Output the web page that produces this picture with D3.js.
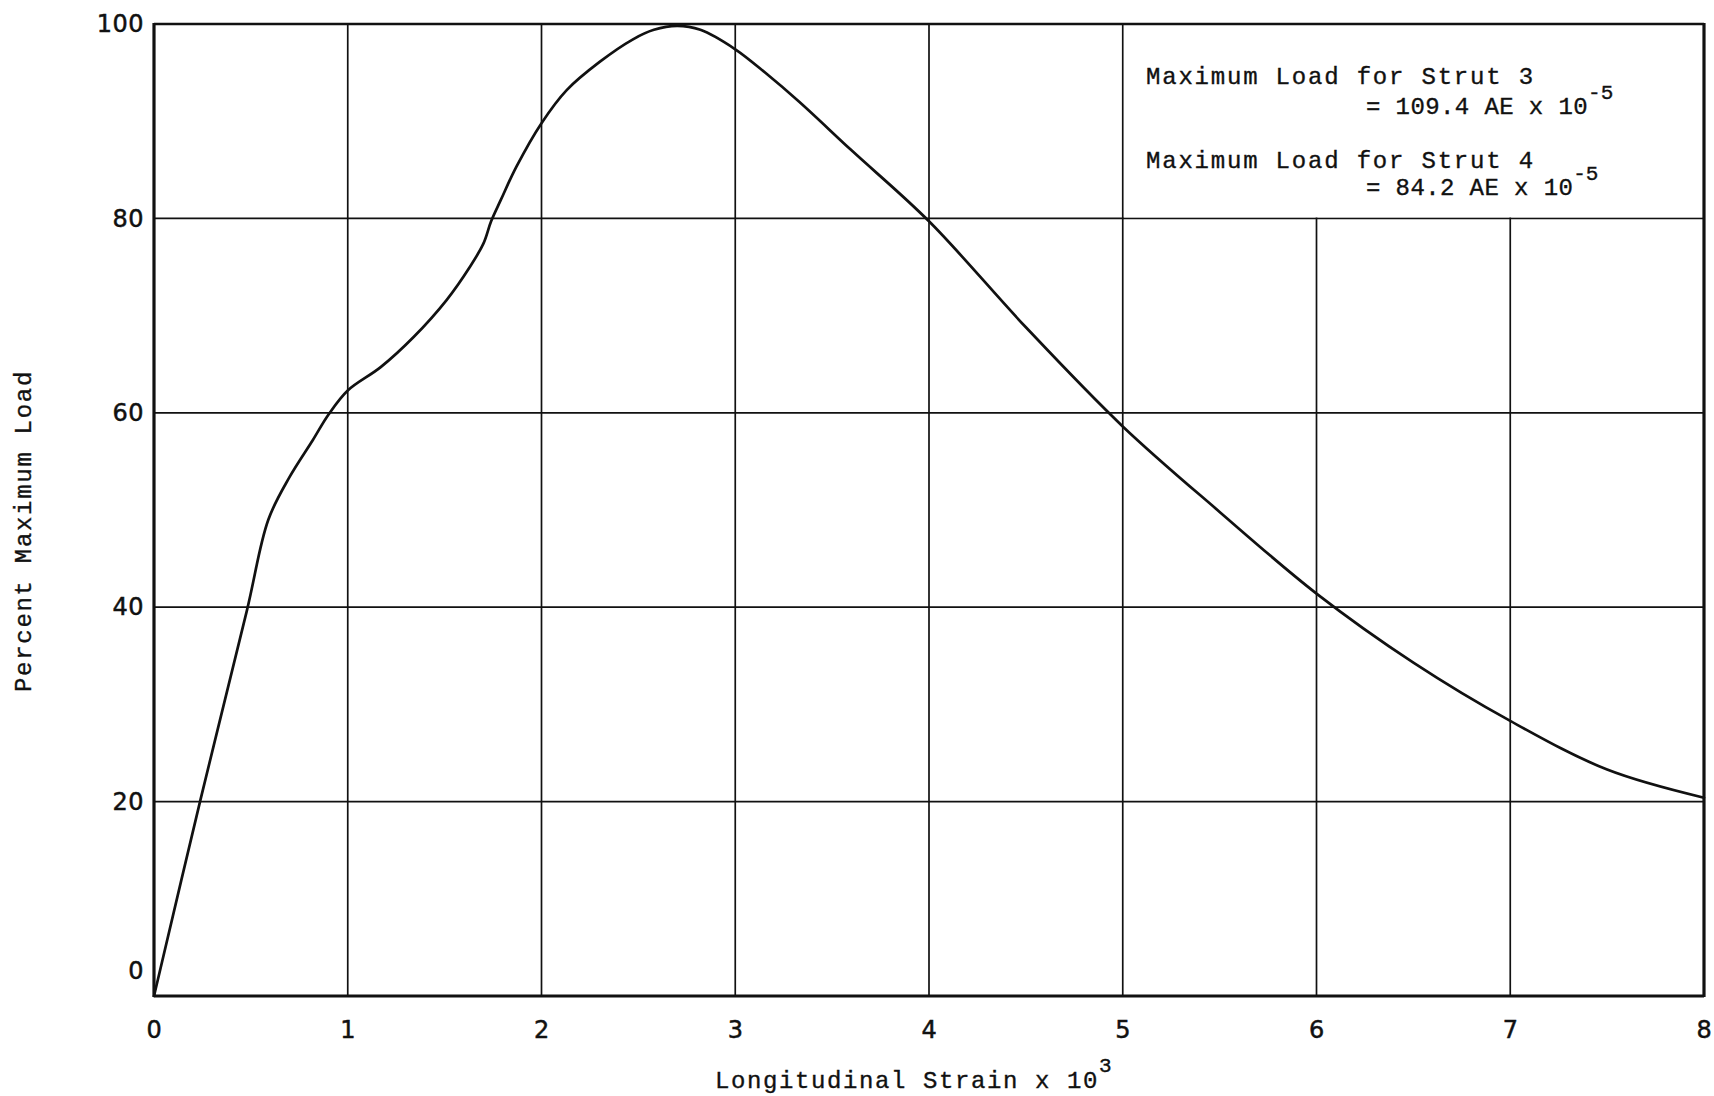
<!DOCTYPE html>
<html>
<head>
<meta charset="utf-8">
<script src="https://cdn.jsdelivr.net/npm/d3@7"></script>
<style>
  html, body { margin: 0; padding: 0; background: #fff; }
  svg { display: block; }
</style>
</head>
<body>
<svg id="chart" width="1714" height="1096"></svg>
<script>
// Load–strain response (percent of maximum load vs. longitudinal strain x 10^3)
const strain = [0, 0.24, 0.48, 0.59, 0.70, 0.82, 0.90, 1.00, 1.17, 1.34, 1.51, 1.63, 1.70, 1.74,
                1.79, 1.87, 2.00, 2.13, 2.30, 2.47, 2.58, 2.70, 2.82, 3.00, 3.16, 3.33, 3.60,
                4.00, 4.50, 5.00, 5.50, 6.00, 6.50, 7.00, 7.50, 8.00];
const load = [0, 20.2, 39.7, 49.0, 53.4, 57.2, 59.8, 62.3, 64.7, 67.8, 71.6, 75.0, 77.4, 79.7,
              81.9, 85.3, 89.8, 93.2, 96.1, 98.4, 99.4, 99.8, 99.4, 97.4, 94.9, 92.0, 87.0,
              79.7, 68.8, 58.6, 49.8, 41.4, 34.3, 28.3, 23.3, 20.4];

const xTicks = [0, 1, 2, 3, 4, 5, 6, 7, 8];
const yTicks = [0, 20, 40, 60, 80, 100];

const xTitle = "Longitudinal Strain x 10";
const xTitleSup = "3";
const yTitle = "Percent Maximum Load";

const noteHeads = ["Maximum Load for Strut 3", "Maximum Load for Strut 4"];
const noteValues = ["= 109.4 AE x 10", "=  84.2 AE x 10"];
const noteSup = "-5";

// ---- layout ----
const svg = d3.select("#chart");
const plot = { left: 154, right: 1704, top: 24, bottom: 996 };
const ink = "#111";
const mono = "'Liberation Mono', 'DejaVu Sans Mono', monospace";
const sans = "'DejaVu Sans', sans-serif";

const x = d3.scaleLinear().domain([0, 8]).range([plot.left, plot.right]);
const y = d3.scaleLinear().domain([0, 100]).range([plot.bottom, plot.top]);

svg.append("rect").attr("width", 1714).attr("height", 1096).attr("fill", "#fff");

// grid
const grid = svg.append("g").attr("stroke", ink).attr("stroke-width", 1.7).attr("fill", "none");
grid.selectAll("line.v").data(xTicks.slice(1, -1)).join("line")
  .attr("class", "v")
  .attr("x1", d => x(d)).attr("x2", d => x(d))
  .attr("y1", y(0)).attr("y2", y(100));
grid.selectAll("line.h").data(yTicks.slice(1, -1)).join("line")
  .attr("class", "h")
  .attr("x1", x(0)).attr("x2", x(8))
  .attr("y1", d => y(d)).attr("y2", d => y(d));

// note panel in the upper-right cell block (covers the interior gridlines)
svg.append("rect")
  .attr("x", x(5) + 1.2).attr("y", y(100) + 1)
  .attr("width", x(8) - x(5) - 2.4).attr("height", y(80) - y(100) - 2)
  .attr("fill", "#fff");

// curve
const line = d3.line()
  .x((d, i) => x(strain[i]))
  .y((d, i) => y(load[i]))
  .curve(d3.curveCatmullRom.alpha(0.5));
svg.append("path")
  .datum(load)
  .attr("d", line)
  .attr("fill", "none")
  .attr("stroke", ink)
  .attr("stroke-width", 2.7)
  .attr("stroke-linejoin", "round")
  .attr("stroke-linecap", "round");

// frame
const frame = svg.append("g").attr("stroke", ink).attr("fill", "none");
frame.append("line").attr("x1", x(0)).attr("x2", x(0)).attr("y1", y(100) - 1).attr("y2", y(0) + 1).attr("stroke-width", 3.2);
frame.append("line").attr("x1", x(8)).attr("x2", x(8)).attr("y1", y(100) - 1).attr("y2", y(0) + 1).attr("stroke-width", 3.2);
frame.append("line").attr("x1", x(0)).attr("x2", x(8)).attr("y1", y(100)).attr("y2", y(100)).attr("stroke-width", 2.4);
frame.append("line").attr("x1", x(0)).attr("x2", x(8)).attr("y1", y(0)).attr("y2", y(0)).attr("stroke-width", 2.8);

// axes (labels only)
const xAxis = svg.append("g")
  .attr("transform", `translate(0,${plot.bottom})`)
  .call(d3.axisBottom(x).tickValues(xTicks).tickFormat(d3.format("d")).tickSize(0).tickPadding(25));
const yAxis = svg.append("g")
  .attr("transform", `translate(${plot.left},0)`)
  .call(d3.axisLeft(y).tickValues(yTicks).tickFormat(d3.format("d")).tickSize(0).tickPadding(10));
[xAxis, yAxis].forEach(a => {
  a.select(".domain").remove();
  a.selectAll("text")
    .attr("fill", ink)
    .attr("stroke", ink).attr("stroke-width", 0.5)
    .style("font-family", sans)
    .style("font-size", "24px")
    .style("letter-spacing", "0.5px");
});
// the zero label on the load axis sits above the baseline
yAxis.selectAll(".tick text").attr("dy", d => d === 0 ? "-0.72em" : "0.32em");

// axis titles
const xt = svg.append("text")
  .attr("x", 715).attr("y", 1088)
  .attr("fill", ink).attr("stroke", ink).attr("stroke-width", 0.35)
  .style("font-family", mono).style("font-size", "24px").style("letter-spacing", "1.6px");
xt.append("tspan").text(xTitle);
xt.append("tspan").attr("dy", -16).style("font-size", "21px").text(xTitleSup);

svg.append("text")
  .attr("transform", `translate(31,${531}) rotate(-90)`)
  .attr("text-anchor", "middle")
  .attr("fill", ink).attr("stroke", ink).attr("stroke-width", 0.35)
  .style("font-family", mono).style("font-size", "24px").style("letter-spacing", "1.7px")
  .text(yTitle);

// note text
const note = svg.append("g").attr("fill", ink).attr("stroke", ink).attr("stroke-width", 0.35)
  .style("font-family", mono).style("font-size", "24px").style("letter-spacing", "1.8px");
const headY = [84, 168];
const valY = [114, 195];
noteHeads.forEach((t, i) => {
  note.append("text").attr("x", 1146).attr("y", headY[i]).text(t);
  const v = note.append("text").attr("x", 1366).attr("y", valY[i]).style("letter-spacing", "0.4px");
  v.append("tspan").text(noteValues[i]);
  v.append("tspan").attr("dy", -15).style("font-size", "21px").style("letter-spacing", "0px").text(noteSup);
});
</script>
</body>
</html>
